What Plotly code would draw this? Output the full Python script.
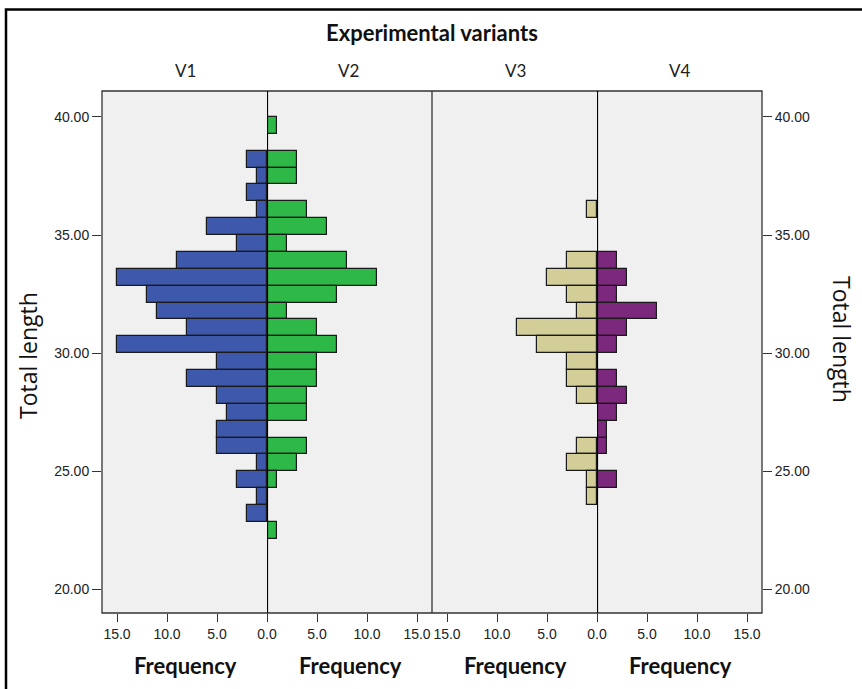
import plotly.graph_objects as go

# ---------------- data ----------------
bin_centers = [39.643, 38.929, 38.214, 37.500, 36.786, 36.071, 35.357, 34.643,
               33.929, 33.214, 32.500, 31.786, 31.071, 30.357, 29.643, 28.929,
               28.214, 27.500, 26.786, 26.071, 25.357, 24.643, 23.929, 23.214,
               22.500]
bin_width = 0.714

v1_freq = [0, 0, 2, 1, 2, 1, 6, 3, 9, 15, 12, 11, 8, 15, 5, 8, 5, 4, 5, 5, 1, 3, 1, 2, 0]
v2_freq = [1, 0, 3, 3, 0, 4, 6, 2, 8, 11, 7, 2, 5, 7, 5, 5, 4, 4, 0, 4, 3, 1, 0, 0, 1]
v3_freq = [0, 0, 0, 0, 0, 1, 0, 0, 3, 5, 3, 2, 8, 6, 3, 3, 2, 0, 0, 2, 3, 1, 1, 0, 0]
v4_freq = [0, 0, 0, 0, 0, 0, 0, 0, 2, 3, 2, 6, 3, 2, 0, 2, 3, 2, 1, 1, 0, 2, 0, 0, 0]

variant_labels = ["V1", "V2", "V3", "V4"]
colors = ["#3E58AC", "#2EB848", "#D3CE97", "#7C287D"]
y_ticks = [20, 25, 30, 35, 40]
x_ticks = [0, 5, 10, 15]

# ---------------- layout helpers (pixels -> paper) ----------------
W, H = 862, 689
def fx(px):
    return px / W
def fy(py):
    return 1 - py / H

PL, PR, PT, PB = 102, 762, 91, 613
splits = [102, 267, 432, 597, 762]
y_range = [19.0, 41.1]
x_max = 16.5

fig = go.Figure()
series = [v1_freq, v2_freq, v3_freq, v4_freq]
for i, (vals, col) in enumerate(zip(series, colors)):
    ys = [c for c, v in zip(bin_centers, vals) if v > 0]
    xs = [v for v in vals if v > 0]
    fig.add_trace(go.Bar(
        x=xs, y=ys, orientation="h", width=bin_width,
        marker=dict(color=col, line=dict(color="#1a1a1a", width=1.2)),
        xaxis="x" if i == 0 else f"x{i+1}", yaxis="y",
        showlegend=False, hoverinfo="x+y",
    ))
fig.add_trace(go.Scatter(x=[None], y=[None], xaxis="x4", yaxis="y2",
                         showlegend=False, hoverinfo="skip"))

tickfont = dict(family="Liberation Sans, Arial, sans-serif", size=14, color="#222")
for i in range(4):
    rev = (i % 2 == 0)
    tv = x_ticks if rev else x_ticks[1:]
    ax = dict(
        domain=[fx(splits[i]), fx(splits[i + 1])],
        range=[x_max, 0] if rev else [0, x_max],
        tickvals=tv, tickformat=".1f",
        ticks="outside", ticklen=8, tickwidth=1.3, tickcolor="#333",
        showgrid=False, zeroline=False, showline=False,
        tickfont=tickfont, anchor="y", fixedrange=True,
    )
    fig.layout["xaxis" if i == 0 else f"xaxis{i+1}"] = ax

fig.update_layout(
    width=W, height=H, autosize=False,
    margin=dict(l=0, r=0, t=0, b=0, autoexpand=False),
    paper_bgcolor="white", plot_bgcolor="#F0F0F0",
    bargap=0,
    yaxis=dict(domain=[fy(PB), fy(PT)], range=y_range, tickvals=y_ticks,
               tickformat=".2f", ticks="outside", ticklen=9, tickwidth=1.3,
               tickcolor="#333", showgrid=False, zeroline=False, showline=False,
               tickfont=tickfont, anchor="x", side="left"),
    yaxis2=dict(domain=[fy(PB), fy(PT)], range=y_range, tickvals=y_ticks,
                tickformat=".2f", ticks="outside", ticklen=9, tickwidth=1.3,
                tickcolor="#333", showgrid=False, zeroline=False, showline=False,
                tickfont=tickfont, anchor="x4", side="right", overlaying="y"),
)

shapes = [
    # outer frame
    dict(type="rect", xref="paper", yref="paper", x0=fx(6), x1=fx(880),
         y0=fy(710), y1=fy(9.5), line=dict(color="black", width=2.5)),
    # plot border
    dict(type="rect", xref="paper", yref="paper", x0=fx(PL), x1=fx(PR),
         y0=fy(PB), y1=fy(PT), line=dict(color="#333", width=1.3)),
    dict(type="line", xref="paper", yref="paper", x0=fx(432), x1=fx(432),
         y0=fy(PB), y1=fy(PT), line=dict(color="#333", width=1.3)),
    dict(type="line", xref="x2", yref="paper", x0=0, x1=0,
         y0=fy(PB), y1=fy(PT), line=dict(color="black", width=2.2)),
    dict(type="line", xref="x4", yref="paper", x0=0, x1=0,
         y0=fy(PB), y1=fy(PT), line=dict(color="black", width=2.2)),
]
fig.update_layout(shapes=shapes)

bold_font = "Lato, Carlito, sans-serif"
ann = [
    dict(text="<b>Experimental variants</b>", x=fx(432), y=fy(32),
         font=dict(family=bold_font, size=22, color="#111")),
    dict(text="Total length", x=fx(28), y=fy(356), textangle=-90,
         font=dict(family="Open Sans, sans-serif", size=23, color="#111")),
    dict(text="Total length", x=fx(842), y=fy(339), textangle=90,
         font=dict(family="Open Sans, sans-serif", size=23, color="#111")),
]
v_x = [185, 348, 515, 680]
f_x = [185, 350, 515, 680]
for lbl, vx, frx in zip(variant_labels, v_x, f_x):
    ann.append(dict(text=lbl, x=fx(vx), y=fy(70),
                    font=dict(family=bold_font, size=17, color="#222")))
    ann.append(dict(text="<b>Frequency</b>", x=fx(frx), y=fy(665),
                    font=dict(family=bold_font, size=22, color="#111")))
for a in ann:
    a.update(xref="paper", yref="paper", showarrow=False,
             xanchor="center", yanchor="middle")
fig.update_layout(annotations=ann)

fig.write_html(
    "out.html",
    config={"responsive": False, "displayModeBar": False},
    post_script="document.body.style.margin='0';document.body.style.overflow='hidden';",
)
